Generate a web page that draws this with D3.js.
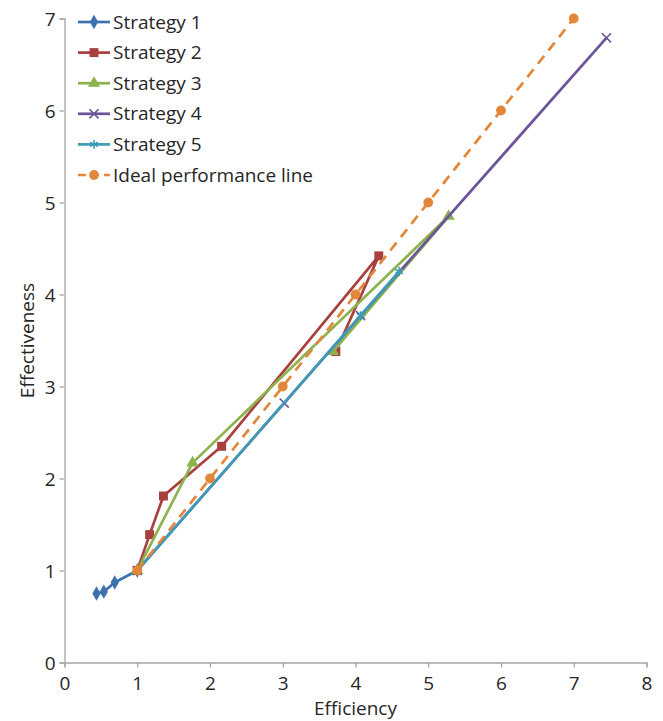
<!DOCTYPE html>
<html>
<head>
<meta charset="utf-8">
<script src="https://cdn.jsdelivr.net/npm/d3@7"></script>
<style>
  body { margin: 0; background: #fff; }
  svg { font-family: "Open Sans", sans-serif; }
</style>
</head>
<body>
<svg id="chart" width="663" height="721"></svg>
<script>
// data
const seriesNames = ["Strategy 1", "Strategy 2", "Strategy 3", "Strategy 4", "Strategy 5", "Ideal performance line"]
const strategy1 = [[0.44, 0.75], [0.54, 0.77], [0.69, 0.87], [1, 1]]
const strategy2 = [[1, 1], [1.17, 1.39], [1.36, 1.81], [2.16, 2.35], [4.32, 4.42], [3.73, 3.38]]
const strategy3 = [[1, 1], [1.76, 2.17], [5.28, 4.85], [3.69, 3.38]]
const strategy4 = [[1, 1], [3.02, 2.82], [4.07, 3.77], [7.45, 6.79]]
const strategy5 = [[1, 1], [4.07, 3.77], [4.6, 4.25]]
const ideal = [[1, 1], [2, 2], [3, 3], [4, 4], [5, 5], [6, 6], [7, 7]]
const xTicks = [0, 1, 2, 3, 4, 5, 6, 7, 8]
const yTicks = [0, 1, 2, 3, 4, 5, 6, 7]

const colors = ["#3d72af", "#a8403e", "#8db24e", "#6b5499", "#3e9bb8", "#e2873a"]
const symbols = [d3.symbolDiamond, d3.symbolSquare, d3.symbolTriangle, d3.symbolTimes, d3.symbolAsterisk, d3.symbolCircle]
const symbolSizes = [60, 80, 65, 55, 55, 75]
const allSeries = [strategy1, strategy2, strategy3, strategy4, strategy5, ideal]

const margin = { top: 18.5, left: 64.5 }
const width = 582
const height = 644

const svg = d3.select("#chart")
const g = svg.append("g").attr("transform", `translate(${margin.left},${margin.top})`)

const x = d3.scaleLinear().domain([0, 8]).range([0, width])
const y = d3.scaleLinear().domain([0, 7]).range([height, 0])

// axes
const xAxis = d3.axisBottom(x).tickValues(xTicks).tickFormat(d3.format("d")).tickSizeOuter(0).tickSize(5).tickPadding(4)
const yAxis = d3.axisLeft(y).tickValues(yTicks).tickFormat(d3.format("d")).tickSizeOuter(0).tickSize(5).tickPadding(4)

const gx = g.append("g").attr("transform", `translate(0,${height})`).call(xAxis)
const gy = g.append("g").call(yAxis)

;[gx, gy].forEach((ax) => {
  ax.select(".domain").attr("stroke", "#a6a6a6").attr("stroke-width", 1.3)
  ax.selectAll(".tick line").attr("stroke", "#a6a6a6").attr("stroke-width", 1.3)
  ax.selectAll(".tick text").attr("fill", "#262626").style("font-size", "19px").style("font-family", "Open Sans")
})
gx.selectAll(".tick text").attr("dy", "0.95em")
gy.selectAll(".tick text").attr("dy", "0.36em")

// axis titles
svg.append("text")
  .attr("x", margin.left + width / 2)
  .attr("y", 715)
  .attr("text-anchor", "middle")
  .attr("fill", "#262626")
  .style("font-size", "19px")
  .text("Efficiency")

svg.append("text")
  .attr("transform", `translate(34,${margin.top + height / 2}) rotate(-90)`)
  .attr("text-anchor", "middle")
  .attr("fill", "#262626")
  .style("font-size", "19px")
  .text("Effectiveness")

// lines
const line = d3.line().x((d) => x(d[0])).y((d) => y(d[1]))

allSeries.forEach((data, i) => {
  const sg = g.append("g")
  sg.append("path")
    .datum(data)
    .attr("fill", "none")
    .attr("stroke", colors[i])
    .attr("stroke-width", 2.7)
    .attr("stroke-linejoin", "round")
    .attr("stroke-dasharray", i === 5 ? "10,7" : null)
    .attr("d", line)

  const stroked = i === 3 || i === 4
  sg.selectAll("path.mark")
    .data(data)
    .enter()
    .append("path")
    .attr("class", "mark")
    .attr("transform", (d) => `translate(${x(d[0])},${y(d[1])})`)
    .attr("d", d3.symbol().type(symbols[i]).size(symbolSizes[i]))
    .attr("fill", stroked ? "none" : colors[i])
    .attr("stroke", stroked ? colors[i] : "none")
    .attr("stroke-width", 1.6)
})

// legend
const legend = svg.append("g").attr("transform", "translate(78,22)")
seriesNames.forEach((name, i) => {
  const row = legend.append("g").attr("transform", `translate(0,${i * 30.6})`)
  row.append("line")
    .attr("x1", 0).attr("x2", 32)
    .attr("stroke", colors[i])
    .attr("stroke-width", 2.7)
    .attr("stroke-dasharray", i === 5 ? "8,5" : null)
  const stroked = i === 3 || i === 4
  row.append("path")
    .attr("transform", "translate(16,0)")
    .attr("d", d3.symbol().type(symbols[i]).size(symbolSizes[i]))
    .attr("fill", stroked ? "none" : colors[i])
    .attr("stroke", stroked ? colors[i] : "none")
    .attr("stroke-width", 1.6)
  row.append("text")
    .attr("x", 35)
    .attr("dy", "0.35em")
    .attr("fill", "#262626")
    .style("font-size", "19px")
    .text(name)
})
</script>
</body>
</html>
